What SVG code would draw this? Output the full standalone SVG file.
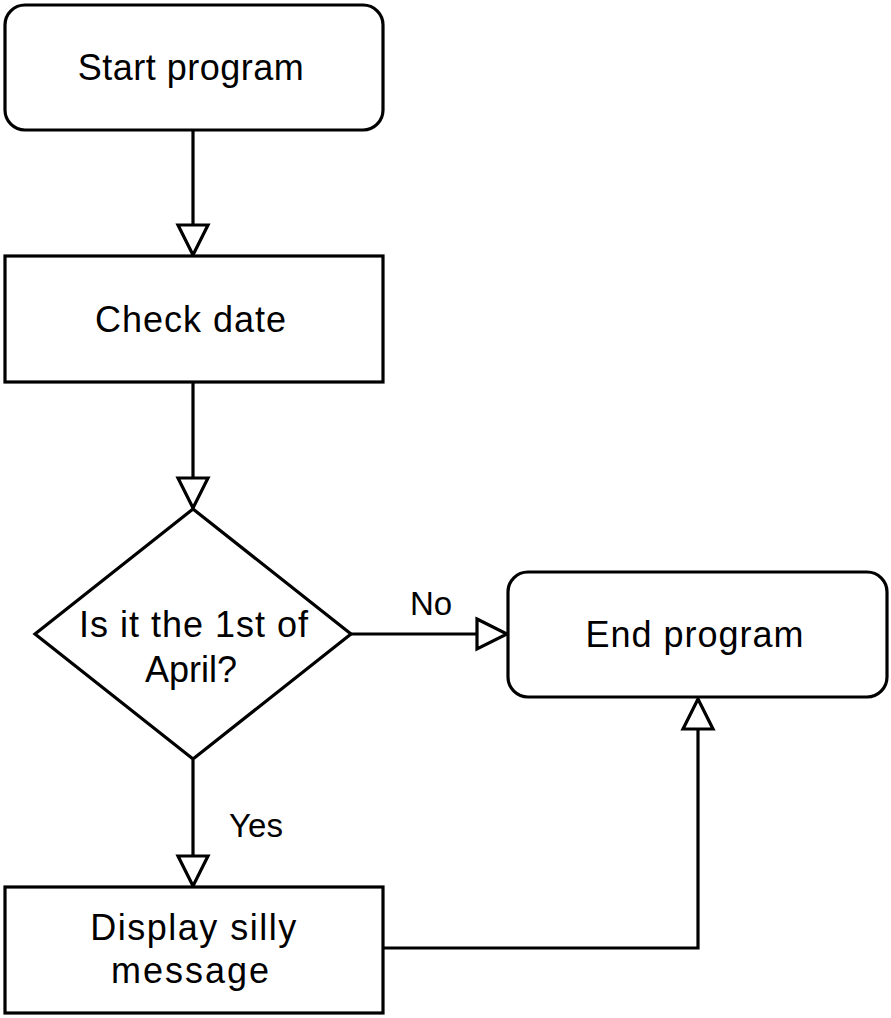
<svg xmlns="http://www.w3.org/2000/svg" width="891" height="1018" viewBox="0 0 891 1018">
<defs>
<style>
.box{fill:#fff;stroke:#000;stroke-width:3.2}
.ln{fill:none;stroke:#000;stroke-width:3.2}
.t{font-family:"Liberation Sans",Arial,sans-serif;font-size:36px;fill:#000;text-anchor:middle}
.lbl{font-family:"Liberation Sans",Arial,sans-serif;font-size:33px;fill:#000;text-anchor:middle}
</style>
<marker id="ah" markerUnits="userSpaceOnUse" viewBox="-3 -3 36 36" markerWidth="36" markerHeight="36" refX="30" refY="15" orient="auto">
<path d="M0,0 L30,15 L0,30 Z" fill="#fff" stroke="#000" stroke-width="3.2" stroke-linejoin="miter"/>
</marker>
</defs>
<rect width="891" height="1018" fill="#fff"/>
<g id="connectors">
<path class="ln" d="M193,131 L193,255" marker-end="url(#ah)"/>
<path class="ln" d="M193,383 L193,508" marker-end="url(#ah)"/>
<path class="ln" d="M351,634 L507,634" marker-end="url(#ah)"/>
<path class="ln" d="M193,760 L193,886" marker-end="url(#ah)"/>
<path class="ln" d="M383,948 L698,948 L698,699" marker-end="url(#ah)"/>
<text class="lbl" x="431" y="615">No</text>
<text class="lbl" x="256" y="837">Yes</text>
</g>
<g id="start">
<rect class="box" x="5" y="5" width="378" height="125" rx="20"/>
<text class="t" x="191" y="80" letter-spacing="0.5">Start program</text>
</g>
<g id="check">
<rect class="box" x="5" y="256" width="378" height="126"/>
<text class="t" x="191" y="332" letter-spacing="1">Check date</text>
</g>
<g id="decision">
<polygon class="box" points="193,509 351,634 193,759 35,634"/>
<text class="t" x="194" y="637" letter-spacing="1">Is it the 1st of</text>
<text class="t" x="191" y="682">April?</text>
</g>
<g id="end">
<rect class="box" x="508" y="572" width="379" height="125" rx="20"/>
<text class="t" x="695" y="647" letter-spacing="1">End program</text>
</g>
<g id="display">
<rect class="box" x="5" y="887" width="378" height="126"/>
<text class="t" x="194" y="940" letter-spacing="1.5">Display silly</text>
<text class="t" x="191" y="983" letter-spacing="2">message</text>
</g>
</svg>
